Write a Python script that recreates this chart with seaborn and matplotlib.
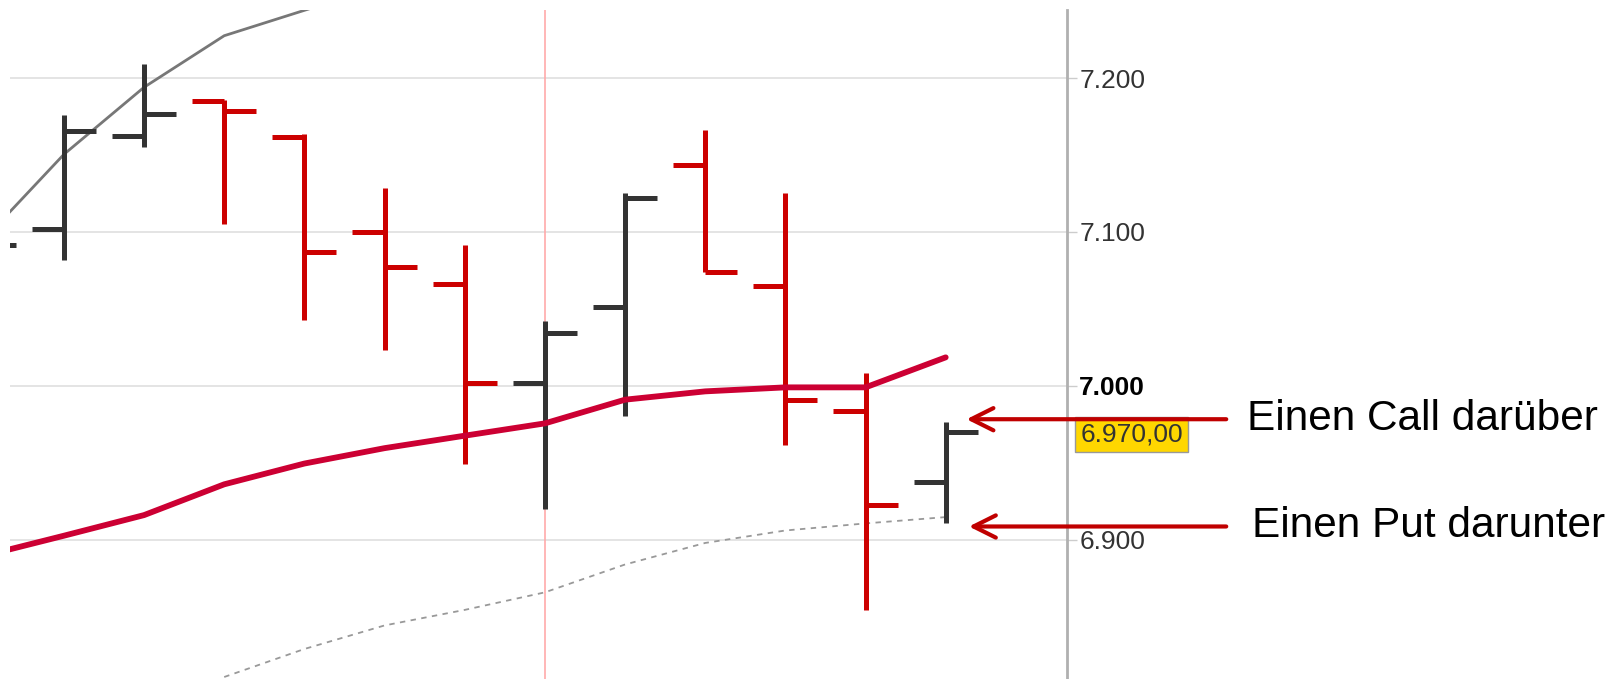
import numpy as np
import pandas as pd
import seaborn as sns
import matplotlib.pyplot as plt
from matplotlib import transforms

sns.set_style('white')
plt.rcParams['font.family'] = ['Liberation Sans', 'DejaVu Sans']

# OHLC bars, index -1 is the bar cut off at the left edge
bar_idx = [-1, 0, 1, 2, 3, 4, 5, 6, 7, 8, 9, 10, 11]
opens = [7080, 7102, 7162.5, 7185, 7161.8, 7100.2, 7066, 7001.7, 7051.3, 7143.7, 7064.7, 6983.7, 6937.4]
highs = [7100, 7175.9, 7209.4, 7186, 7163.8, 7128.3, 7091.5, 7042, 7125, 7166.5, 7125, 7008.4, 6976.3]
lows = [7070, 7082, 7155, 7104.9, 7042.6, 7023, 6949.5, 6920, 6980.3, 7074.1, 6961.6, 6854.4, 6910.7]
closes = [7091.5, 7165.8, 7176.6, 7178.6, 7086.8, 7077.4, 7001.7, 7034.6, 7122.3, 7074.1, 6991, 6922.7, 6970]

# moving averages
ma_fast_x = [-1, 0, 1, 2, 3, 4]
ma_fast = [7095, 7150.4, 7194, 7227.5, 7244, 7260]
ma_mid_x = [-1, 0, 1, 2, 3, 4, 5, 6, 7, 8, 9, 10, 11]
ma_mid = [6889.5, 6902.6, 6916, 6936, 6949.5, 6959.5, 6967.6, 6975.6, 6991, 6996.4, 6999, 6999, 7018.5]
ma_slow_x = [2, 3, 4, 5, 6, 7, 8, 9, 10, 11]
ma_slow = [6810.8, 6829, 6844.3, 6854.4, 6865.8, 6883.9, 6897.9, 6906, 6910.6, 6914.7]

tick_values = [6900, 7000, 7100, 7200]
tick_labels = ['6.900', '7.000', '7.100', '7.200']
last_price = 6970
last_label = '6.970,00'
marker_bar = 6

fig = plt.figure(figsize=(16.16, 6.79), dpi=100)
ax = fig.add_axes([0.0064, 0.0, 0.6537, 0.9848])

df = pd.DataFrame({'idx': bar_idx, 'open': opens, 'high': highs,
                   'low': lows, 'close': closes})
df['color'] = np.where(df['close'] >= df['open'], '#333333', '#cc0000')

ax.axvline(marker_bar, color='#ffaaaa', lw=1.2, zorder=1)

sns.lineplot(x=ma_fast_x, y=ma_fast, ax=ax, color='#777777', lw=2, zorder=2)
sns.lineplot(x=ma_slow_x, y=ma_slow, ax=ax, color='#999999', lw=1.3,
             linestyle=(0, (3, 3)), zorder=2)

tl = 0.4
ax.vlines(df['idx'], df['low'], df['high'], colors=df['color'], lw=3.6, zorder=3)
ax.hlines(df['open'], df['idx'] - tl, df['idx'], colors=df['color'], lw=3.6, zorder=3)
ax.hlines(df['close'], df['idx'], df['idx'] + tl, colors=df['color'], lw=3.6, zorder=3)

sns.lineplot(x=ma_mid_x, y=ma_mid, ax=ax, color='#cc0033', lw=4.2, zorder=4)

ax.set_xlim(-0.668, 12.51)
ax.set_ylim(6809.5, 7244)

ax.yaxis.tick_right()
ax.set_yticks(tick_values)
ax.set_yticklabels(tick_labels, fontsize=19, color='#333333')
for lab in ax.get_yticklabels():
    if lab.get_text() == '7.000':
        lab.set_fontweight('bold')
        lab.set_color('black')
ax.tick_params(axis='y', length=7, width=1, color='#cccccc', pad=2)
ax.set_xticks([])
ax.grid(axis='y', color='#e2e2e2', lw=1.3)
ax.set_axisbelow(True)
for s in ['top', 'left', 'bottom']:
    ax.spines[s].set_visible(False)
ax.spines['right'].set_color('#b0b0b0')
ax.spines['right'].set_linewidth(2)

trans = transforms.blended_transform_factory(ax.transAxes, ax.transData)
ax.text(1.013, last_price - 1.5, last_label, transform=trans, fontsize=19,
        color='#333333', va='center', ha='left',
        bbox=dict(boxstyle='square,pad=0.2', facecolor='#ffd700',
                  edgecolor='#999999', lw=1))

notes = [('Einen Call darüber', 11.26, 6978.3, 14.5, 14.76),
         ('Einen Put darunter', 11.29, 6908.6, 14.5, 14.82)]
for text, xt, yv, xs, xl in notes:
    ax.annotate('', xy=(xt, yv), xytext=(xs, yv), annotation_clip=False,
                arrowprops=dict(arrowstyle='->', color='#c00000', lw=3,
                                mutation_scale=40, shrinkA=0, shrinkB=0))
    ax.text(xl, yv, text, fontsize=30.5, color='black', va='center', ha='left',
            clip_on=False)

fig.savefig('out.png', dpi=100)
